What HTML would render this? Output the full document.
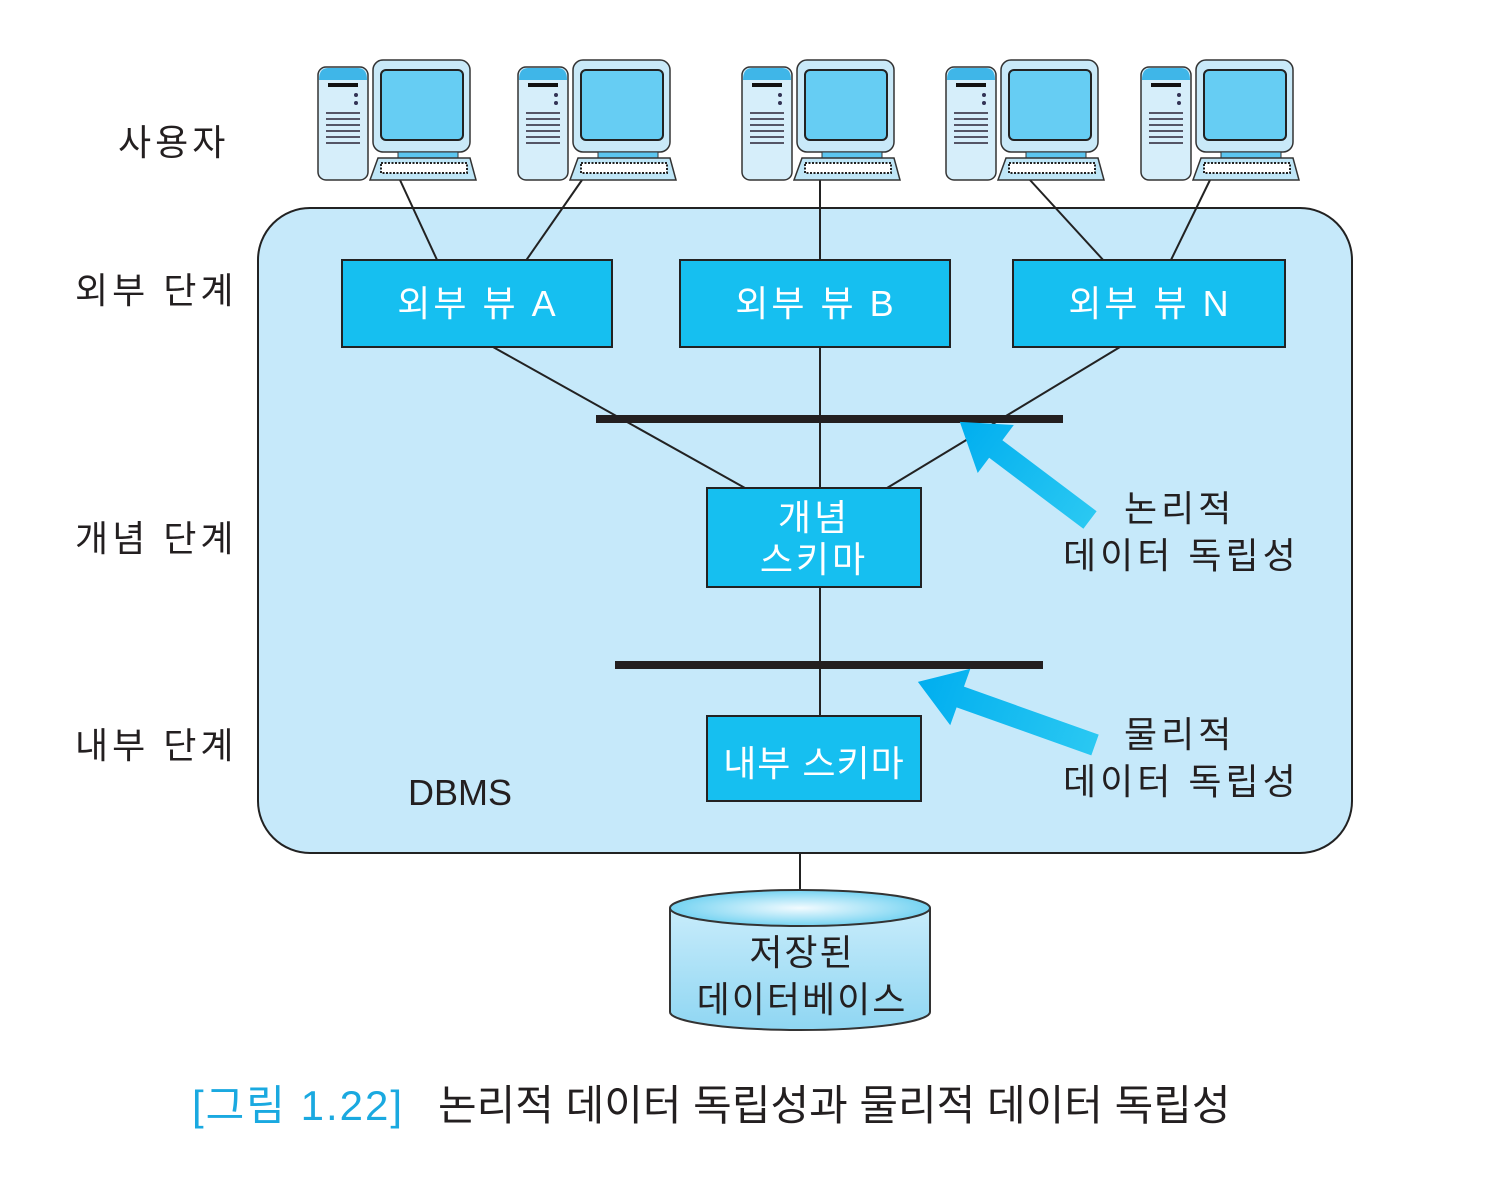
<!DOCTYPE html>
<html><head><meta charset="utf-8"><style>
body{margin:0;background:#fff}
svg text{font-family:"Liberation Sans","Noto Sans CJK KR",sans-serif}
</style></head><body>
<svg width="1500" height="1176" viewBox="0 0 1500 1176" xmlns="http://www.w3.org/2000/svg">
<defs>
<linearGradient id="ag" x1="0" x2="1"><stop offset="0" stop-color="#2ac8f2"/><stop offset="1" stop-color="#00aeef"/></linearGradient>
<radialGradient id="ct" cx="0.5" cy="0.5" r="0.6"><stop offset="0" stop-color="#f2fbff"/><stop offset="1" stop-color="#5ccbef"/></radialGradient>
<linearGradient id="cb" x1="0" y1="0" x2="0" y2="1"><stop offset="0" stop-color="#c8ecfb"/><stop offset="1" stop-color="#8fd6f2"/></linearGradient>
<g id="pc">
<rect x="0" y="7" width="50" height="113" rx="8" fill="#d6eefa" stroke="#333" stroke-width="1.5"/>
<path d="M1 20 Q1 8 10 8 H40 Q49 8 49 20 Z" fill="#3fb6e8"/>
<rect x="10" y="23" width="30" height="4" fill="#111"/>
<circle cx="38" cy="35" r="2" fill="#335"/><circle cx="38" cy="43" r="2" fill="#335"/>
<g stroke="#556" stroke-width="2"><line x1="8" y1="53" x2="42" y2="53"/><line x1="8" y1="59" x2="42" y2="59"/><line x1="8" y1="65" x2="42" y2="65"/><line x1="8" y1="71" x2="42" y2="71"/><line x1="8" y1="77" x2="42" y2="77"/><line x1="8" y1="83" x2="42" y2="83"/></g>
<rect x="55" y="0" width="97" height="92" rx="10" fill="#c9e9f8" stroke="#333" stroke-width="1.5"/>
<rect x="63" y="10" width="82" height="70" rx="5" fill="#66cdf3" stroke="#222" stroke-width="2"/>
<rect x="80" y="92" width="60" height="8" fill="#5cc6f0" stroke="#333"/>
<path d="M60 98 H152 L158 120 H52 Z" fill="#bfe6f7" stroke="#333" stroke-width="1.5"/>
<rect x="63" y="103" width="86" height="10" fill="#fff" stroke="#222" stroke-width="2" stroke-dasharray="2 1.5"/>
</g>
</defs>
<rect x="258" y="208" width="1094" height="645" rx="52" fill="#c6e9fa" stroke="#222" stroke-width="2"/>
<g stroke="#222" stroke-width="2">
<line x1="400" y1="180" x2="438" y2="262"/><line x1="582" y1="180" x2="525" y2="262"/>
<line x1="820" y1="180" x2="820" y2="262"/><line x1="1030" y1="180" x2="1105" y2="262"/><line x1="1210" y1="180" x2="1170" y2="262"/>
</g>
<use href="#pc" x="318" y="60"/><use href="#pc" x="518" y="60"/><use href="#pc" x="742" y="60"/><use href="#pc" x="946" y="60"/><use href="#pc" x="1141" y="60"/>
<g stroke="#222" stroke-width="2">
<line x1="493" y1="347" x2="745" y2="488"/><line x1="820" y1="347" x2="820" y2="488"/><line x1="1120" y1="347" x2="887" y2="488"/>
<line x1="820" y1="587" x2="820" y2="716"/><line x1="800" y1="853" x2="800" y2="892"/>
</g>
<rect x="596" y="415" width="467" height="8" fill="#231f20"/>
<rect x="615" y="661" width="428" height="8" fill="#231f20"/>
<g fill="#16bff0" stroke="#222" stroke-width="2">
<rect x="342" y="260" width="270" height="87"/><rect x="680" y="260" width="270" height="87"/><rect x="1013" y="260" width="272" height="87"/>
<rect x="707" y="488" width="214" height="99"/><rect x="707" y="716" width="214" height="85"/>
</g>
<g fill="#fff" font-size="36" text-anchor="middle" letter-spacing="3">
<text x="478" y="316">외부 뷰 A</text><text x="816" y="316">외부 뷰 B</text><text x="1150" y="316">외부 뷰 N</text>
<text x="814" y="530">개념</text><text x="814" y="572">스키마</text><text x="814" y="776" letter-spacing="1">내부 스키마</text>
</g>
<g transform="translate(1090,520) rotate(217)"><path d="M0 -11 H118 V-30 L163 0 L118 30 V11 H0 Z" fill="url(#ag)"/></g>
<g transform="translate(1095,745) rotate(199.6)"><path d="M0 -11 H143 V-30 L188 0 L143 30 V11 H0 Z" fill="url(#ag)"/></g>
<g fill="#231f20" font-size="36" letter-spacing="4">
<text x="118" y="155">사용자</text><text x="75" y="303">외부 단계</text><text x="75" y="551">개념 단계</text><text x="75" y="758">내부 단계</text>
<text x="1124" y="521">논리적</text><text x="1063" y="568">데이터 독립성</text>
<text x="1124" y="747">물리적</text><text x="1063" y="794">데이터 독립성</text>
<text x="408" y="805" letter-spacing="0">DBMS</text>
</g>
<path d="M670 908 V1012 A130 18 0 0 0 930 1012 V908" fill="url(#cb)" stroke="#333" stroke-width="2"/>
<ellipse cx="800" cy="908" rx="130" ry="18" fill="url(#ct)" stroke="#333" stroke-width="2"/>
<g fill="#231f20" font-size="36" text-anchor="middle" letter-spacing="2"><text x="802" y="965">저장된</text><text x="802" y="1012">데이터베이스</text></g>
<text x="192" y="1120" font-size="42" fill="#1aa9e0" letter-spacing="2">[그림 1.22]</text>
<text x="438" y="1120" font-size="42" fill="#231f20">논리적 데이터 독립성과 물리적 데이터 독립성</text>
</svg>
</body></html>
